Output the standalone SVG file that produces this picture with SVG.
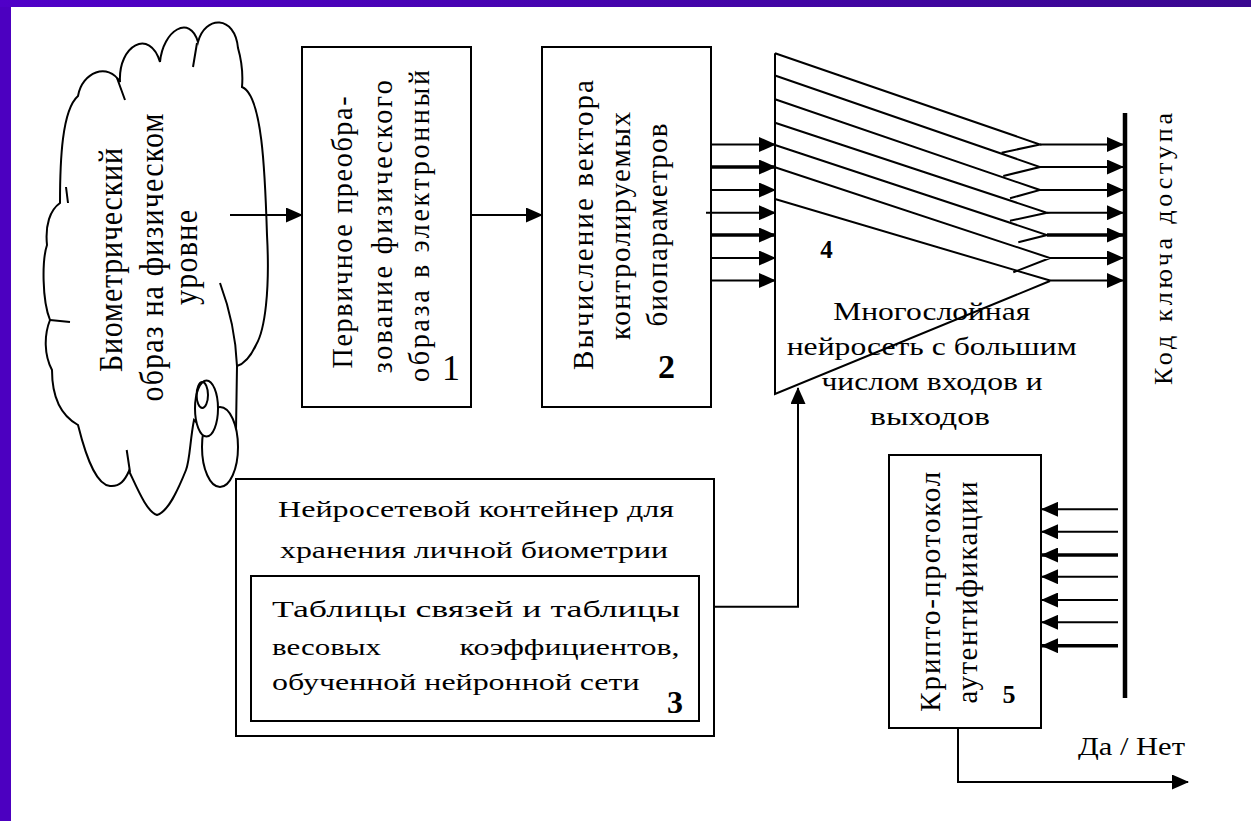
<svg xmlns="http://www.w3.org/2000/svg" width="1251" height="821" viewBox="0 0 1251 821">
<defs>
<linearGradient id="topg" x1="0" y1="0" x2="1" y2="0">
<stop offset="0" stop-color="#5000C8"/>
<stop offset="1" stop-color="#3A0890"/>
</linearGradient>
<marker id="ah" markerWidth="17" markerHeight="15" refX="16" refY="7.5" orient="auto" markerUnits="userSpaceOnUse">
<path d="M0,0 L17,7.5 L0,15 z" fill="#000"/>
</marker>
</defs>
<style>
.bx{fill:#fff;stroke:#000;stroke-width:2}
.ln{fill:none;stroke:#000;stroke-width:2}
.tk{fill:none;stroke:#000;stroke-width:3.5}
.t{font-family:"Liberation Serif","DejaVu Serif","Times New Roman",serif;fill:#000}
.b{font-weight:bold}
</style>
<rect x="0" y="0" width="1251" height="821" fill="#4C00C0"/>
<rect x="0" y="0" width="1251" height="7" fill="url(#topg)"/>
<rect x="11" y="7" width="1240" height="814" fill="#fff"/>

<g id="cloud">
<path class="bx" d="M60,203 C60,160 62,110 78,96 C82,72 108,62 120,82 C118,45 150,28 160,62 C163,30 190,14 198,42 C205,15 235,15 238,48 C242,62 243,75 242,87 C262,95 265,170 267,235 C270,290 265,330 256,345 C250,358 244,364 237,366 L236,430 L205,430 L194,420 C190,440 190,460 186,470 C178,490 168,512 157,515 C147,512 138,490 129,471 C125,480 120,487 110,486 C98,485 88,465 78,425 C60,415 52,395 52,370 C44,355 44,335 50,320 C42,300 42,260 47,245 C45,225 50,210 60,203 Z"/>
<path class="ln" d="M117,78 L125,100 M197,43 L193,67 M66,187 L68,203 M50,320 L70,322 M126.7,450 L130,472 M220,283 C230,310 236,340 237,366"/>
<ellipse class="bx" cx="220" cy="447" rx="18" ry="40"/>
<ellipse class="bx" cx="206.5" cy="408.5" rx="11.5" ry="28"/>
<ellipse class="ln" cx="202.3" cy="395" rx="5.7" ry="13"/>
<text class="t" font-size="30" text-anchor="middle" textLength="224" lengthAdjust="spacing" transform="translate(122,260) scale(1.1,1) rotate(-90)">Биометрический</text>
<text class="t" font-size="30" text-anchor="middle" textLength="288" lengthAdjust="spacing" transform="translate(163,257.5) scale(1.1,1) rotate(-90)">образ на физическом</text>
<text class="t" font-size="30" text-anchor="middle" textLength="95" lengthAdjust="spacing" transform="translate(197,257.5) scale(1.1,1) rotate(-90)">уровне</text>
</g>

<g id="box1">
<rect class="bx" x="302" y="47" width="169" height="360"/>
<text class="t" font-size="28" text-anchor="middle" textLength="272" lengthAdjust="spacing" transform="translate(352,232.5) scale(1.03,1) rotate(-90)">Первичное преобра-</text>
<text class="t" font-size="28" text-anchor="middle" textLength="293" lengthAdjust="spacing" transform="translate(392,226.7) scale(1.03,1) rotate(-90)">зование физического</text>
<text class="t" font-size="28" text-anchor="middle" textLength="312" lengthAdjust="spacing" transform="translate(429,226) scale(1.03,1) rotate(-90)">образа в электронный</text>
<text class="t" font-size="36" text-anchor="middle" x="451" y="380">1</text>
</g>

<g id="box2">
<rect class="bx" x="542" y="47" width="169" height="360"/>
<text class="t" font-size="29" text-anchor="middle" textLength="290" lengthAdjust="spacing" transform="translate(593,225) scale(1.05,1) rotate(-90)">Вычисление вектора</text>
<text class="t" font-size="29" text-anchor="middle" textLength="228" lengthAdjust="spacing" transform="translate(630,226) scale(1.05,1) rotate(-90)">контролируемых</text>
<text class="t" font-size="29" text-anchor="middle" textLength="203" lengthAdjust="spacing" transform="translate(667,225) scale(1.05,1) rotate(-90)">биопараметров</text>
<text class="t b" font-size="34" text-anchor="middle" x="666.5" y="378">2</text>
</g>

<g id="net4">
<path class="ln" d="M775,53.3 V394 L1050,281"/>
<path class="ln" d="M775,53.3 L1040,144.5 L1001.7,152.7 M775,75.5 L1040,167 L1003.3,176 M775,99.3 L1040,190 L1010,198.3 M775,122.7 L1047,212.7 L1010,220.7 M775,145 L1047,235 L1018.3,242.3 M775,167.3 L1050,258 L1013.3,272.3 M775,199 L1050,280.5"/>
<text class="t b" font-size="25" text-anchor="middle" x="826.5" y="258">4</text>
<text class="t" font-size="26" text-anchor="middle" x="931.7" y="320" textLength="197" lengthAdjust="spacingAndGlyphs">Многослойная</text>
<text class="t" font-size="26" text-anchor="middle" x="931.7" y="355" textLength="290" lengthAdjust="spacingAndGlyphs">нейросеть с большим</text>
<text class="t" font-size="26" text-anchor="middle" x="932" y="390" textLength="221" lengthAdjust="spacingAndGlyphs">числом входов и</text>
<text class="t" font-size="26" text-anchor="middle" x="930" y="425" textLength="120" lengthAdjust="spacingAndGlyphs">выходов</text>
</g>

<g id="container3">
<rect class="bx" x="236" y="479" width="478" height="257"/>
<rect class="bx" x="251" y="576" width="448" height="145"/>
<text class="t" font-size="24" text-anchor="middle" x="476" y="517" textLength="396" lengthAdjust="spacingAndGlyphs">Нейросетевой контейнер для</text>
<text class="t" font-size="24" text-anchor="middle" x="474" y="558" textLength="388" lengthAdjust="spacingAndGlyphs">хранения личной биометрии</text>
<text class="t" font-size="24" x="272" y="617" textLength="408" lengthAdjust="spacingAndGlyphs">Таблицы связей и таблицы</text>
<text class="t" font-size="24" x="272" y="655" textLength="109" lengthAdjust="spacingAndGlyphs">весовых</text>
<text class="t" font-size="24" x="459.6" y="655" textLength="220" lengthAdjust="spacingAndGlyphs">коэффициентов,</text>
<text class="t" font-size="24" x="272" y="690" textLength="367.5" lengthAdjust="spacingAndGlyphs">обученной нейронной сети</text>
<text class="t b" font-size="32" text-anchor="middle" x="675" y="713">3</text>
</g>

<g id="box5">
<rect class="bx" x="889" y="455" width="152" height="273"/>
<text class="t" font-size="29" text-anchor="middle" textLength="240" lengthAdjust="spacing" transform="translate(940,591.7) scale(1.05,1) rotate(-90)">Крипто-протокол</text>
<text class="t" font-size="29" text-anchor="middle" textLength="222" lengthAdjust="spacing" transform="translate(977,592.5) scale(1.05,1) rotate(-90)">аутентификации</text>
<text class="t b" font-size="26" text-anchor="middle" x="1009" y="703">5</text>
</g>

<g id="keybus">
<line x1="1125" y1="113" x2="1125" y2="698" stroke="#000" stroke-width="4.5"/>
<text class="t" font-size="26" text-anchor="middle" textLength="272" lengthAdjust="spacing" transform="translate(1172,249) rotate(-90)">Код  ключа  доступа</text>
</g>

<g id="connectors">
<path class="ln" d="M230,215 H302" marker-end="url(#ah)"/>
<path class="ln" d="M471,215 H542" marker-end="url(#ah)"/>
<path class="ln" d="M711,144.5 H775" marker-end="url(#ah)"/>
<path class="tk" d="M711,167 H775" marker-end="url(#ah)"/>
<path class="ln" d="M711,190 H775" marker-end="url(#ah)"/>
<path class="ln" d="M706,212.7 H775" marker-end="url(#ah)"/>
<path class="tk" d="M711,235 H775" marker-end="url(#ah)"/>
<path class="ln" d="M711,258 H775" marker-end="url(#ah)"/>
<path class="ln" d="M711,280.5 H775" marker-end="url(#ah)"/>
<path class="ln" d="M1040,144.5 H1123" marker-end="url(#ah)"/>
<path class="ln" d="M1040,167 H1123" marker-end="url(#ah)"/>
<path class="ln" d="M1040,190 H1123" marker-end="url(#ah)"/>
<path class="ln" d="M1047,212.7 H1123" marker-end="url(#ah)"/>
<path class="tk" d="M1047,235 H1123" marker-end="url(#ah)"/>
<path class="ln" d="M1050,258 H1123" marker-end="url(#ah)"/>
<path class="ln" d="M1050,280.5 H1123" marker-end="url(#ah)"/>
<path class="ln" d="M1118,509.3 H1042" marker-end="url(#ah)"/>
<path class="ln" d="M1118,531.7 H1042" marker-end="url(#ah)"/>
<path class="tk" d="M1118,555 H1042" marker-end="url(#ah)"/>
<path class="ln" d="M1118,576.7 H1042" marker-end="url(#ah)"/>
<path class="ln" d="M1118,600 H1042" marker-end="url(#ah)"/>
<path class="ln" d="M1118,622.3 H1042" marker-end="url(#ah)"/>
<path class="tk" d="M1118,645.7 H1042" marker-end="url(#ah)"/>
<path class="ln" d="M714,606.7 H798 V388" marker-end="url(#ah)"/>
<path class="ln" d="M958,728 V782 H1188" marker-end="url(#ah)"/>
</g>
<text class="t" font-size="25" x="1078" y="755" textLength="107" lengthAdjust="spacingAndGlyphs">Да / Нет</text>
</svg>
